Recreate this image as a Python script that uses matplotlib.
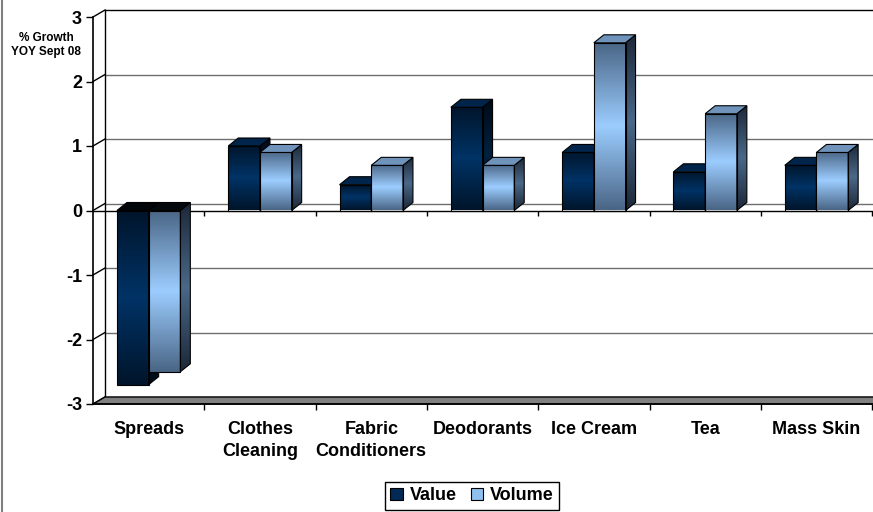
import numpy as np
import matplotlib
matplotlib.use("Agg")
import matplotlib.pyplot as plt
from matplotlib.patches import Polygon, Patch
from matplotlib.lines import Line2D

plt.rcParams['font.family'] = ['Liberation Sans', 'DejaVu Sans']
plt.rcParams['font.weight'] = 'bold'

categories = ['Spreads', 'Clothes\nCleaning', 'Fabric\nConditioners', 'Deodorants',
              'Ice Cream', 'Tea', 'Mass Skin']
value = [-2.7, 1.0, 0.4, 1.6, 0.9, 0.6, 0.7]
volume = [-2.5, 0.9, 0.7, 0.7, 2.6, 1.5, 0.9]
y_ticks = [-3, -2, -1, 0, 1, 2, 3]
series_names = ['Value', 'Volume']

# colour sets per series: front (end, middle), side (end, middle), top, top when negative
styles = {
    'Value': dict(front=('#00152b', '#003366'), side=('#000a16', '#00213f'),
                  top='#00244a', neg_top='#02060b'),
    'Volume': dict(front=('#4a6686', '#9ccdff'), side=('#1c2838', '#4a6888'),
                   top='#6f93bb', neg_top='#05090e'),
}

W, H = 873, 512
fig = plt.figure(figsize=(W / 100, H / 100), dpi=100)
px_x = 111.3        # pixels per category
px_y = 64.5         # pixels per unit of growth
ax = fig.add_axes([93 / W, 108 / H, 7 * px_x / W, 6 * px_y / H])

# oblique depth of the walls and of the bars, in data units
wdx, wdy = 12 / px_x, 7 / px_y
bdx, bdy = 10 / px_x, 8 / px_y
bar_w = 31.7 / px_x
n = len(categories)
ymin, ymax = y_ticks[0], y_ticks[-1]


def hex2rgb(c):
    return np.array(matplotlib.colors.to_rgb(c))


def gradient_face(verts, c_end, c_mid, z):
    """Fill a polygon with a vertical end-middle-end gradient."""
    xs = [v[0] for v in verts]
    ys = [v[1] for v in verts]
    t = np.linspace(0, 1, 80)
    w = 1 - np.abs(2 * t - 1)
    e, m = hex2rgb(c_end), hex2rgb(c_mid)
    img = (e + (m - e) * w[:, None])[:, None, :]
    im = ax.imshow(img, extent=(min(xs), max(xs), min(ys), max(ys)), origin='lower',
                   aspect='auto', interpolation='bilinear', zorder=z)
    edge = Polygon(verts, closed=True, facecolor='none', edgecolor='black', lw=0.8,
                   zorder=z + 0.01)
    ax.add_patch(edge)
    im.set_clip_path(edge)


def bar3d(x0, v, style, z):
    x1 = x0 + bar_w
    lo, hi = min(0, v), max(0, v)
    front = [(x0, lo), (x1, lo), (x1, hi), (x0, hi)]
    side = [(x1, lo), (x1 + bdx, lo + bdy), (x1 + bdx, hi + bdy), (x1, hi)]
    top = [(x0, hi), (x1, hi), (x1 + bdx, hi + bdy), (x0 + bdx, hi + bdy)]
    gradient_face(front, *style['front'], z)
    gradient_face(side, *style['side'], z)
    ax.add_patch(Polygon(top, closed=True, facecolor=style['top'] if v >= 0 else style['neg_top'],
                         edgecolor='black', lw=0.8, zorder=z + 0.01))


# back wall gridlines and side wall diagonals
for v in y_ticks:
    col = 'black' if v == ymax else '#6e6e6e'
    ax.plot([wdx, n + wdx + 0.5], [v + wdy] * 2, color=col, lw=1.0, clip_on=False, zorder=1)
    ax.plot([0, wdx], [v, v + wdy], color='black', lw=1.0, clip_on=False, zorder=1)
ax.plot([wdx, wdx], [ymin + wdy, ymax + wdy], color='black', lw=1.0, clip_on=False, zorder=1)

# floor
floor = [(0, ymin), (n + 0.5, ymin), (n + 0.5 + wdx, ymin + wdy), (wdx, ymin + wdy)]
ax.add_patch(Polygon(floor, closed=True, facecolor='#808080', edgecolor='black', lw=1.0,
                     clip_on=False, zorder=1.5))

# category axis line at zero with its ticks
ax.plot([0, n + 0.5], [0, 0], color='black', lw=1.0, clip_on=False, zorder=2)
ax.vlines(np.arange(1, n + 1), -5 / px_y, 0, color='black', lw=1.0, clip_on=False, zorder=2)

# bars
z = 3
for i in range(n):
    centre = i + 0.5
    bar3d(centre - bar_w, value[i], styles['Value'], z)
    bar3d(centre, volume[i], styles['Volume'], z + 0.1)
    z += 0.2

ax.set_xlim(0, n)
ax.set_ylim(ymin, ymax)

# front axes
for s in ['top', 'right']:
    ax.spines[s].set_visible(False)
ax.spines['left'].set_linewidth(1.2)
ax.spines['bottom'].set_linewidth(1.2)
ax.spines['left'].set_zorder(6)
ax.spines['bottom'].set_zorder(6)
ax.set_yticks(y_ticks)
ax.set_yticklabels([str(v) for v in y_ticks], fontsize=13, fontweight='bold')
ax.tick_params(axis='y', direction='out', length=5, width=1, pad=3)
ax.set_xticks(np.arange(n) + 0.5)
ax.set_xticklabels(categories, fontsize=13, fontweight='bold', linespacing=1.4)
ax.set_xticks(np.arange(1, n + 1), minor=True)
ax.tick_params(axis='x', which='major', length=0, pad=12)
ax.tick_params(axis='x', which='minor', direction='out', length=4, width=1)

fig.text(46 / W, 1 - 45 / H, '% Growth\nYOY Sept 08', ha='center', va='center',
         fontsize=8.5, fontweight='bold')

handles = [Patch(facecolor='#002a55', edgecolor='black', lw=0.8),
           Patch(facecolor='#8fc0f0', edgecolor='black', lw=0.8)]
leg = fig.legend(handles, series_names, loc='upper center', ncol=2,
                 bbox_to_anchor=(472 / W, 1 - 482 / H),
                 prop={'size': 13, 'weight': 'bold'}, frameon=True, fancybox=False,
                 edgecolor='black', framealpha=1, handlelength=0.7, handleheight=0.7,
                 handletextpad=0.35, columnspacing=0.8, borderpad=0.3, borderaxespad=0)
leg.get_frame().set_linewidth(1.0)

# chart frame edge on the left
fig.add_artist(Line2D([1.5 / W, 1.5 / W], [0, 1], color='#7f7f7f', lw=1.5))

fig.savefig('out.png', dpi=100)
